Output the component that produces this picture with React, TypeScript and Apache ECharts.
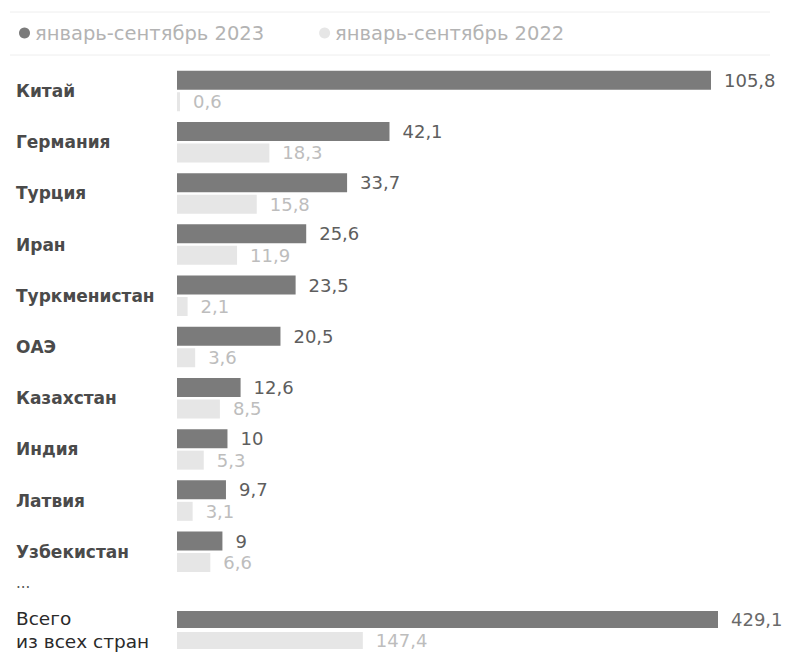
import React, { useEffect, useRef } from "react";
import * as echarts from "echarts";

const categories = ["Китай", "Германия", "Турция", "Иран", "Туркменистан", "ОАЭ", "Казахстан", "Индия", "Латвия", "Узбекистан"];
const values2023 = [105.8, 42.1, 33.7, 25.6, 23.5, 20.5, 12.6, 10, 9.7, 9];
const values2022 = [0.6, 18.3, 15.8, 11.9, 2.1, 3.6, 8.5, 5.3, 3.1, 6.6];
const totalCategory = ["Всего\nиз всех стран"];
const total2023 = [429.1];
const total2022 = [147.4];
const seriesNames = ["январь-сентябрь 2023", "январь-сентябрь 2022"];

const DARK = "#7b7b7b";
const LIGHT = "#e6e6e6";
const FONT = "DejaVu Sans";

const fmt = (p: any) => String(p.value).replace(".", ",");

export default function App() {
  const ref = useRef<HTMLDivElement>(null);
  useEffect(() => {
    if (!ref.current) return;
    const chart = echarts.init(ref.current, null, { renderer: "svg" });
    const barCommon = (color: string, labelColor: string, w: number, gap: string) => ({
      type: "bar" as const,
      barWidth: w,
      barGap: gap,
      itemStyle: { color },
      label: {
        show: true,
        position: "right",
        distance: 13,
        formatter: fmt,
        color: labelColor,
        fontFamily: FONT,
        fontSize: 18,
      },
    });
    const catLabel = {
      align: "left",
      margin: 161,
      color: "#4a4a4a",
      fontSize: 17,
      fontWeight: "bold",
      fontFamily: FONT,
    };
    chart.setOption({
      animation: false,
      textStyle: { fontFamily: FONT },
      legend: {
        left: 14,
        top: 18,
        icon: "circle",
        itemWidth: 11,
        itemHeight: 11,
        itemGap: 55,
        data: seriesNames,
        textStyle: { color: "#b3b3b3", fontSize: 19.5, fontFamily: FONT },
      },
      graphic: [
        { type: "line", shape: { x1: 10, y1: 12, x2: 770, y2: 12 }, style: { stroke: "#eeeeee", lineWidth: 1 } },
        { type: "line", shape: { x1: 10, y1: 55, x2: 770, y2: 55 }, style: { stroke: "#eeeeee", lineWidth: 1 } },
        { type: "text", left: 16, top: 575, style: { text: "...", fill: "#555", fontSize: 15, fontFamily: FONT } },
      ],
      grid: [
        { left: 177, top: 65.4, width: 534, height: 512 },
        { left: 177, top: 611, width: 541, height: 50 },
      ],
      xAxis: [
        { type: "value", gridIndex: 0, min: 0, max: 105.8, show: false },
        { type: "value", gridIndex: 1, min: 0, max: 429.1, show: false },
      ],
      yAxis: [
        {
          type: "category",
          gridIndex: 0,
          data: categories,
          inverse: true,
          axisLine: { show: false },
          axisTick: { show: false },
          axisLabel: catLabel,
        },
        {
          type: "category",
          gridIndex: 1,
          data: totalCategory,
          inverse: true,
          axisLine: { show: false },
          axisTick: { show: false },
          axisLabel: { ...catLabel, fontWeight: "normal", color: "#2a2a2a", fontSize: 18.5, lineHeight: 23 },
        },
      ],
      series: [
        { ...barCommon(DARK, "#5e5e5e", 19, "13%"), name: seriesNames[0], xAxisIndex: 0, yAxisIndex: 0, data: values2023 },
        { ...barCommon(LIGHT, "#bdbdbd", 19, "13%"), name: seriesNames[1], xAxisIndex: 0, yAxisIndex: 0, data: values2022 },
        { ...barCommon(DARK, "#6a6a6a", 20, "20%"), name: seriesNames[0], xAxisIndex: 1, yAxisIndex: 1, data: total2023 },
        { ...barCommon(LIGHT, "#bdbdbd", 20, "20%"), name: seriesNames[1], xAxisIndex: 1, yAxisIndex: 1, data: total2022 },
      ],
    });
    return () => chart.dispose();
  }, []);
  return <div ref={ref} style={{ width: 793, height: 653, position: "absolute", left: 0, top: 0 }} />;
}
